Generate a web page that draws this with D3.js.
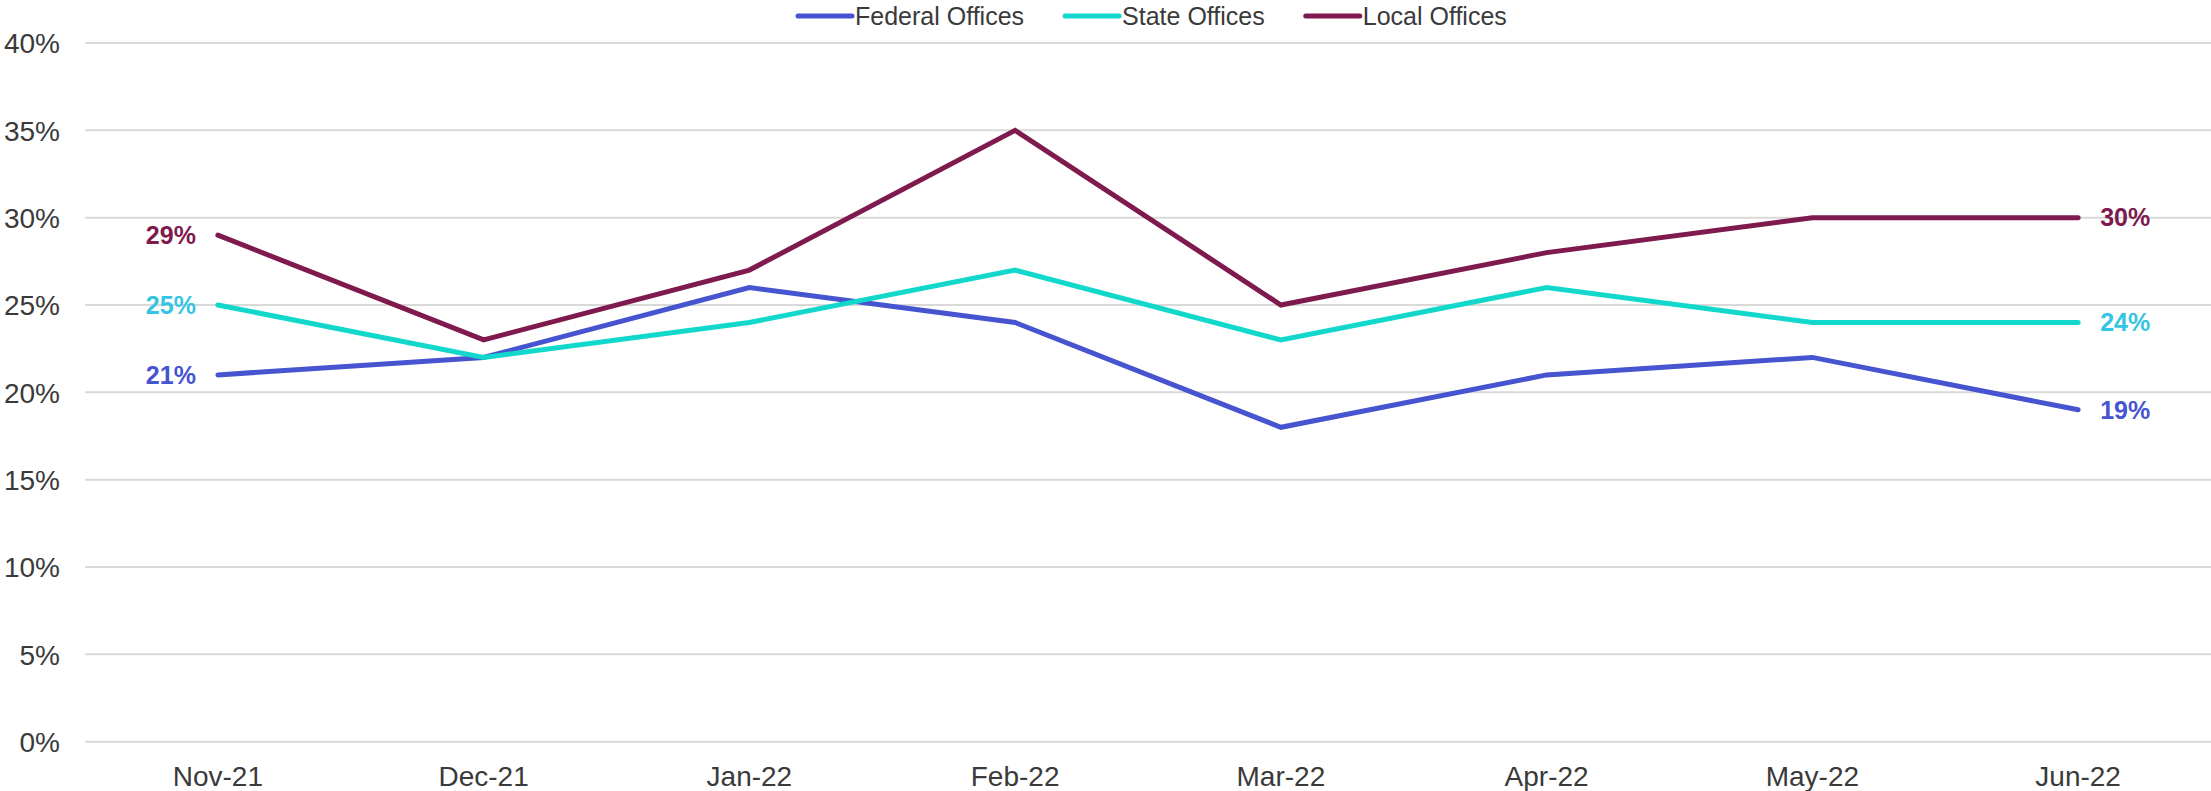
<!DOCTYPE html>
<html>
<head>
<meta charset="utf-8">
<script src="https://cdn.jsdelivr.net/npm/d3@7"></script>
<style>
  html, body { margin: 0; padding: 0; background: #fff; }
  svg { display: block; }
  text { font-family: Arial, "Liberation Sans", sans-serif; }
</style>
</head>
<body>
<svg id="chart" width="2211" height="791"></svg>
<script>
const categories = ["Nov-21", "Dec-21", "Jan-22", "Feb-22", "Mar-22", "Apr-22", "May-22", "Jun-22"];
const federalValues = [21, 22, 26, 24, 18, 21, 22, 19];
const stateValues   = [25, 22, 24, 27, 23, 26, 24, 24];
const localValues   = [29, 23, 27, 35, 25, 28, 30, 30];
const seriesNames = ["Federal Offices", "State Offices", "Local Offices"];
const yTicks = [0, 5, 10, 15, 20, 25, 30, 35, 40];

const lineColors  = ["#4654CF", "#12D8CC", "#7E1A4D"];
const labelColors = ["#4654CF", "#35C4E2", "#7E1A4D"];

const series = [
  { name: seriesNames[0], values: federalValues, color: lineColors[0], labelColor: labelColors[0] },
  { name: seriesNames[1], values: stateValues,   color: lineColors[1], labelColor: labelColors[1] },
  { name: seriesNames[2], values: localValues,   color: lineColors[2], labelColor: labelColors[2] }
];

const svg = d3.select("#chart");
const plotLeft = 85, plotRight = 2211, plotTop = 43, plotBottom = 741.7;

const x = d3.scaleBand().domain(categories).range([plotLeft, plotRight]);
const y = d3.scaleLinear().domain([0, 40]).range([plotBottom, plotTop]);
const cx = c => x(c) + x.bandwidth() / 2;

// gridlines
svg.append("g").selectAll("line").data(yTicks).join("line")
  .attr("x1", plotLeft).attr("x2", plotRight)
  .attr("y1", d => y(d)).attr("y2", d => y(d))
  .attr("stroke", "#d9d9d9").attr("stroke-width", 2);

// y axis
const yAxis = d3.axisLeft(y).tickValues(yTicks).tickFormat(d => d + "%").tickSize(0).tickPadding(0);
const gy = svg.append("g").attr("transform", "translate(60,0)").call(yAxis);
gy.select(".domain").remove();
gy.selectAll("text").attr("font-size", 28).attr("fill", "#3a3a3a")
  .attr("font-family", "Arial, 'Liberation Sans', sans-serif").attr("dy", "0.35em");

// x axis
const xAxis = d3.axisBottom(x).tickSize(0).tickPadding(0);
const gx = svg.append("g").attr("transform", "translate(0,786)").call(xAxis);
gx.select(".domain").remove();
gx.selectAll("text").attr("font-size", 28).attr("fill", "#3a3a3a")
  .attr("font-family", "Arial, 'Liberation Sans', sans-serif").attr("dy", 0);

// lines
const line = d3.line().x((d, i) => cx(categories[i])).y(d => y(d));
svg.append("g").selectAll("path").data(series).join("path")
  .attr("d", s => line(s.values))
  .attr("fill", "none")
  .attr("stroke", s => s.color)
  .attr("stroke-width", 5)
  .attr("stroke-linejoin", "miter")
  .attr("stroke-linecap", "round");

// end labels
const labels = svg.append("g");
series.forEach(s => {
  const first = s.values[0], last = s.values[s.values.length - 1];
  labels.append("text")
    .attr("x", cx(categories[0]) - 22).attr("y", y(first)).attr("dy", "0.35em")
    .attr("text-anchor", "end").attr("font-size", 25).attr("font-weight", "bold")
    .attr("fill", s.labelColor).text(first + "%");
  labels.append("text")
    .attr("x", cx(categories[categories.length - 1]) + 22).attr("y", y(last)).attr("dy", "0.35em")
    .attr("text-anchor", "start").attr("font-size", 25).attr("font-weight", "bold")
    .attr("fill", s.labelColor).text(last + "%");
});

// legend
const legend = svg.append("g");
let lx = 798;
const ly = 16;
series.forEach(s => {
  legend.append("line").attr("x1", lx).attr("x2", lx + 54).attr("y1", ly).attr("y2", ly)
    .attr("stroke", s.color).attr("stroke-width", 5).attr("stroke-linecap", "round");
  const t = legend.append("text").attr("x", lx + 57).attr("y", ly).attr("dy", "0.35em")
    .attr("font-size", 25).attr("fill", "#3a3a3a").text(s.name);
  const w = t.node().getComputedTextLength();
  lx = lx + 57 + w + 41;
});
</script>
</body>
</html>
